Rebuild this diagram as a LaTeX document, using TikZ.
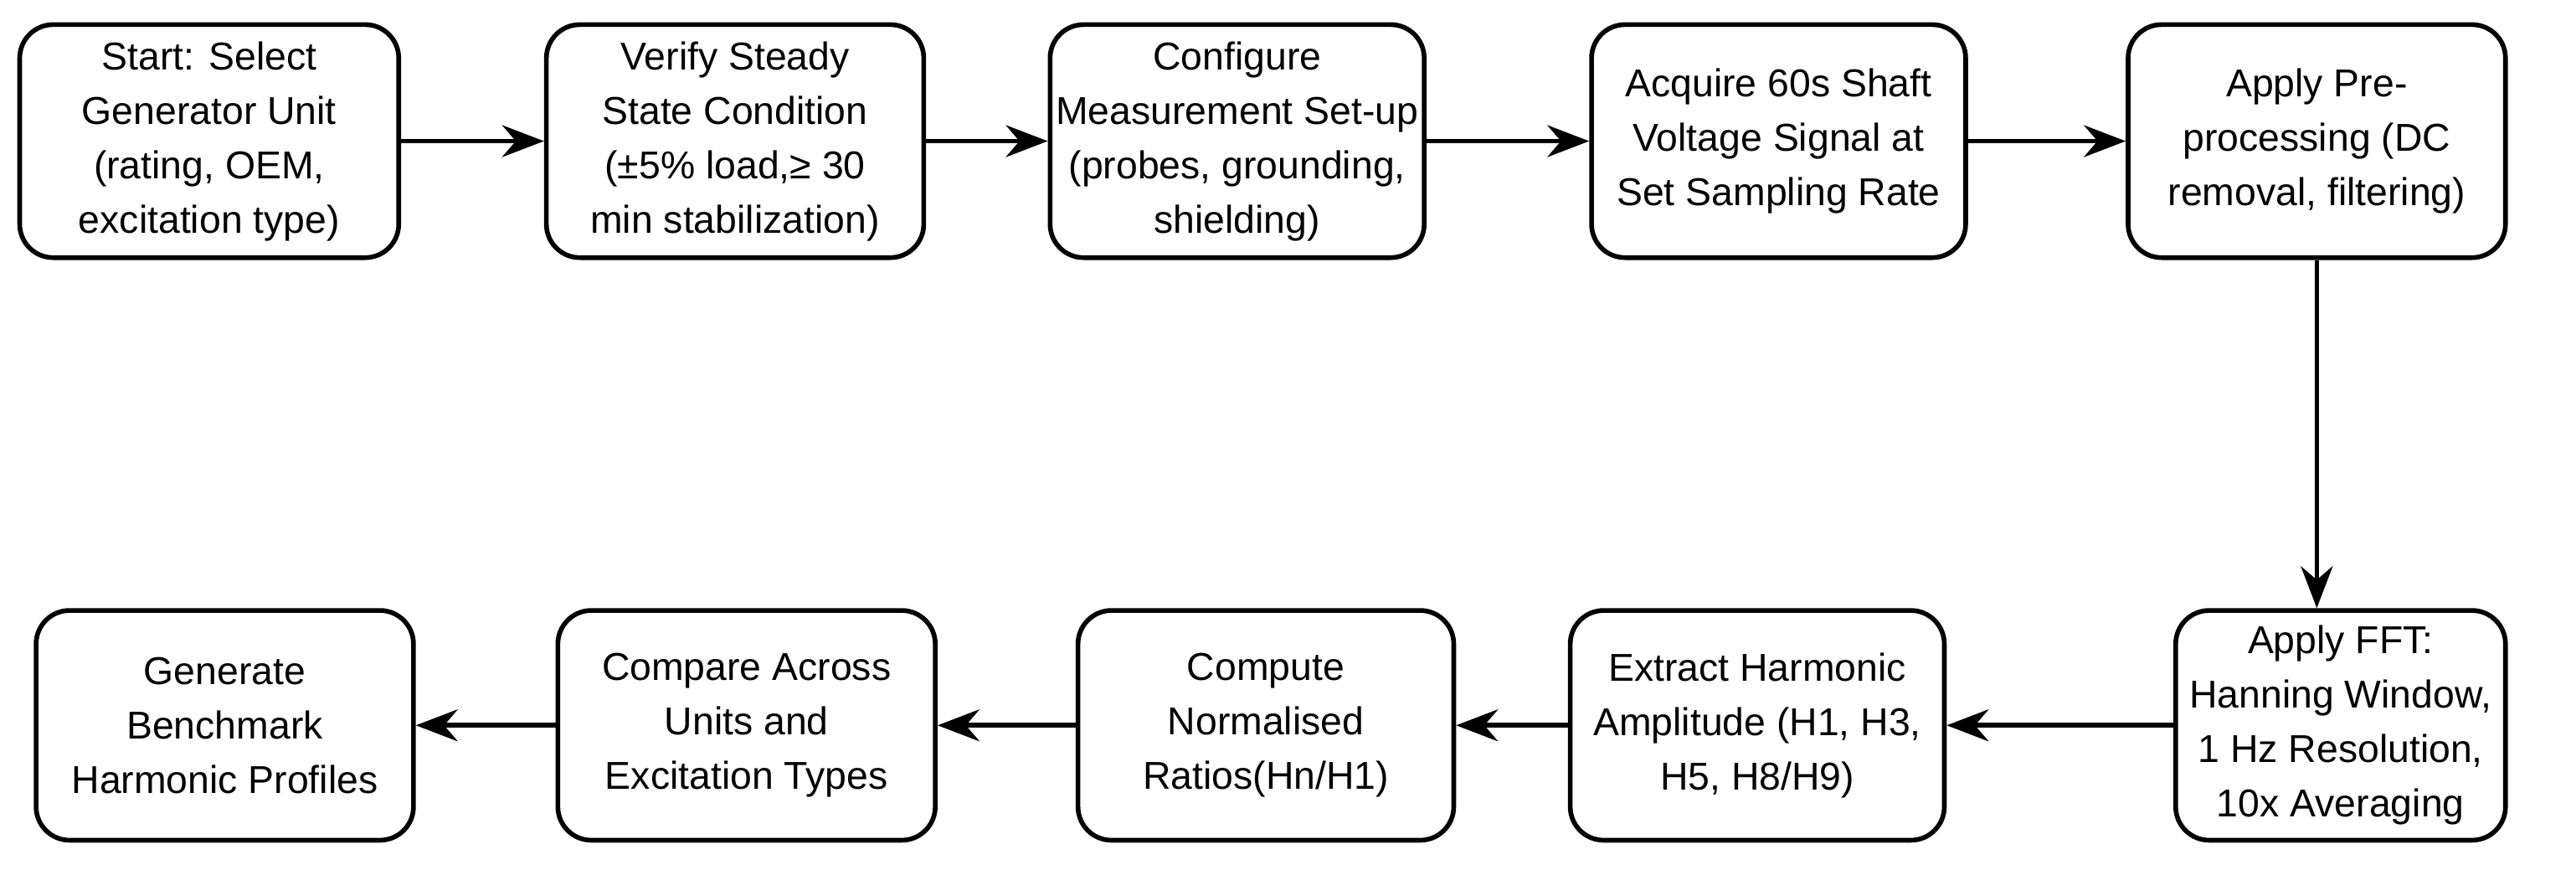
\documentclass[tikz,border=0pt]{standalone}
\usepackage{fontspec}
\setmainfont{Liberation Sans}
\usetikzlibrary{arrows.meta}
\begin{document}
\begin{tikzpicture}[x=0.0196cm,y=-0.0196cm,
  box/.style={draw,line width=1.6pt,rounded corners=0.4cm,align=center,font=\fontsize{13.2}{18.5}\selectfont,inner sep=0pt},
  arr/.style={-{Stealth[length=0.5cm,width=0.38cm]},line width=1.6pt}]
\useasboundingbox (0,0) rectangle (1570,532.7);
\newcommand{\bx}[6]{\node[box,minimum width={(#3-#2)*0.0196cm},minimum height={(#5-#4)*0.0196cm}] (#1) at ({(#2+#3)/2},{(#4+#5)/2}) {#6};}
\bx{b1}{12}{243}{15}{157}{Start: Select\\Generator Unit\\(rating, OEM,\\excitation type)}
\bx{b2}{333}{563}{15}{157}{Verify Steady\\State Condition\\(±5\% load,≥ 30\\min stabilization)}
\bx{b3}{640}{868}{15}{157}{Configure\\Measurement Set-up\\(probes, grounding,\\shielding)}
\bx{b4}{970}{1198}{15}{157}{Acquire 60s Shaft\\Voltage Signal at\\Set Sampling Rate}
\bx{b5}{1297}{1527}{15}{157}{Apply Pre-\\processing (DC\\removal, filtering)}
\bx{b6}{1326}{1527}{372}{512}{Apply FFT:\\Hanning Window,\\1 Hz Resolution,\\10x Averaging}
\bx{b7}{957}{1185}{372}{512}{Extract Harmonic\\Amplitude (H1, H3,\\H5, H8/H9)}
\bx{b8}{657}{886}{372}{512}{Compute\\Normalised\\Ratios(Hn/H1)}
\bx{b9}{340}{570}{372}{512}{Compare Across\\Units and\\Excitation Types}
\bx{b10}{22}{252}{372}{512}{Generate\\Benchmark\\Harmonic Profiles}
\draw[arr] (b1) -- (b2);
\draw[arr] (b2) -- (b3);
\draw[arr] (b3) -- (b4);
\draw[arr] (b4) -- (b5);
\draw[arr] (b5.south) -- (b5.south |- b6.north);
\draw[arr] (b6) -- (b7);
\draw[arr] (b7) -- (b8);
\draw[arr] (b8) -- (b9);
\draw[arr] (b9) -- (b10);
\end{tikzpicture}
\end{document}
